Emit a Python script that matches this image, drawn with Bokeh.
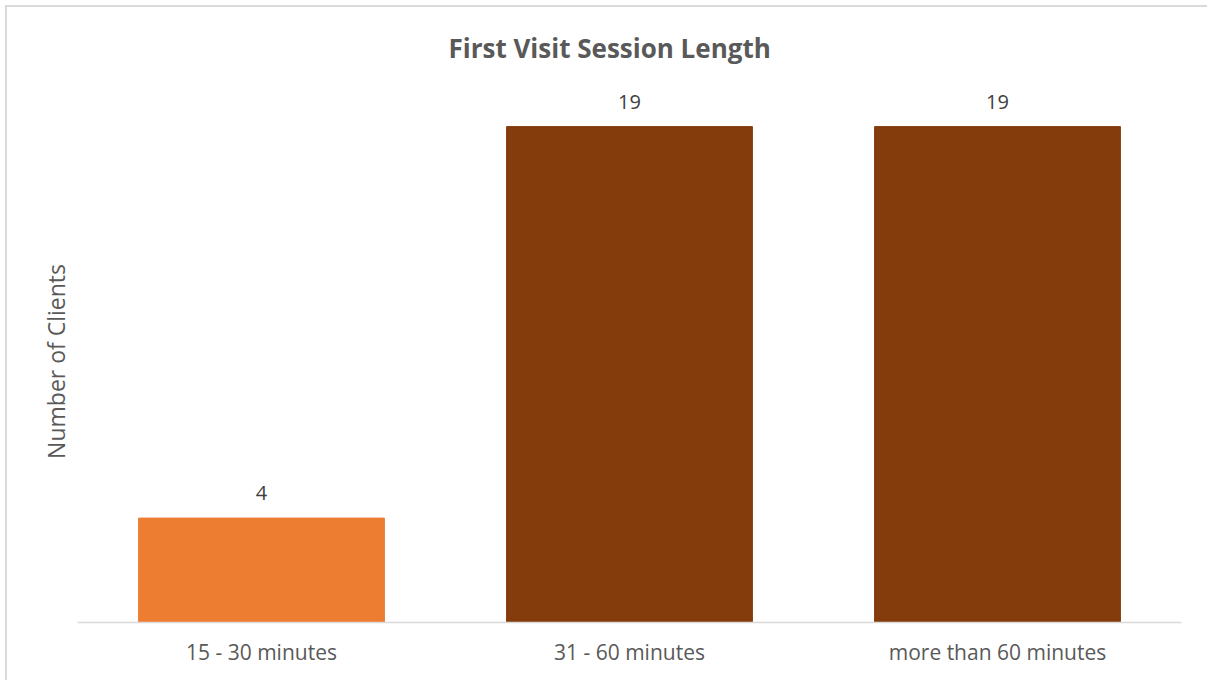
from bokeh.plotting import figure
from bokeh.models import ColumnDataSource, Range1d, FactorRange
from bokeh.embed import file_html
from bokeh.resources import INLINE
from bokeh.core.properties import value

categories = ["15 - 30 minutes", "31 - 60 minutes", "more than 60 minutes"]
counts = [4, 19, 19]
colors = ["#ED7D31", "#843C0C", "#843C0C"]
labels = [str(c) for c in counts]

src = ColumnDataSource(dict(cat=categories, val=counts, col=colors, lab=labels))

p = figure(x_range=FactorRange(*categories), y_range=Range1d(0, 21.15),
           width=1202, height=675, output_backend="svg", toolbar_location=None,
           min_border_left=70, min_border_right=28, min_border_top=63, min_border_bottom=60,
           styles={"margin-left": "7px", "margin-top": "7px",
                   "box-shadow": "-2px -2px 0px 0px #d9d9d9"})

p.vbar(x="cat", top="val", width=0.668, color="col", source=src)
p.text(x="cat", y="val", text="lab", source=src, text_align="center", text_baseline="bottom",
       y_offset=-18, text_font=value("Open Sans"), text_font_size="20px", text_color="#404040")

p.title.text = "First Visit Session Length"
p.title.align = "left"
p.title.offset = 371
p.title.text_font = "Open Sans"
p.title.text_font_style = "bold"
p.title.text_font_size = "26px"
p.title.text_color = "#595959"
p.title.standoff = 10

p.xgrid.visible = False
p.ygrid.visible = False
p.outline_line_color = None

xa = p.xaxis[0]
xa.axis_line_color = "#d9d9d9"
xa.axis_line_width = 1.5
xa.major_tick_line_color = None
xa.minor_tick_line_color = None
xa.major_label_text_font = "Open Sans"
xa.major_label_text_font_size = "21px"
xa.major_label_text_color = "#595959"
xa.major_label_standoff = 9

ya = p.yaxis[0]
ya.axis_line_color = None
ya.major_tick_line_color = None
ya.minor_tick_line_color = None
ya.major_label_text_font_size = "1px"
ya.major_label_text_color = None
ya.major_label_standoff = 0
ya.axis_label = "Number of Clients" + "\u00a0" * 5
ya.axis_label_text_font = "Open Sans"
ya.axis_label_text_font_style = "normal"
ya.axis_label_text_font_size = "23px"
ya.axis_label_text_color = "#595959"
ya.axis_label_standoff = 0

open("out.html", "w").write(file_html(p, INLINE))
